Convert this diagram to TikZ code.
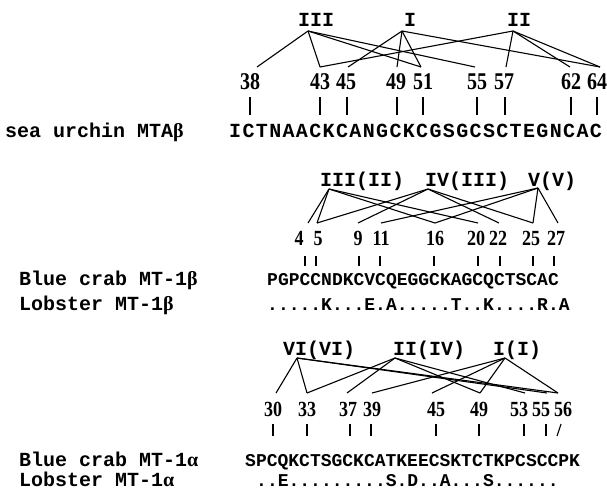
\documentclass[tikz,border=0pt]{standalone}
\usepackage{graphicx}
\usepackage{fontspec}
\setmainfont{Liberation Serif}
\setmonofont{Liberation Mono}
\usetikzlibrary{positioning}

\newcommand{\tallnum}[1]{\scalebox{1}[1.2]{#1}}

\tikzset{
  clus/.style={font=\ttfamily\bfseries\fontsize{20}{20}\selectfont, inner sep=0pt, anchor=base west},
  num/.style={font=\bfseries\fontsize{18}{18}\selectfont, inner sep=0pt, anchor=base},
  seqtext/.style={font=\ttfamily\bfseries\fontsize{18}{18}\selectfont, inner sep=0pt, anchor=base west},
  species/.style={font=\ttfamily\bfseries\fontsize{20}{20}\selectfont, inner sep=0pt, anchor=base west},
  bond/.style={line width=1.1pt},
  tick/.style={line width=1.1pt}
}

\begin{document}
\begin{tikzpicture}[x=1pt,y=-1pt]
\useasboundingbox (0,0) rectangle (607,490);

% sea urchin MTA beta
\node[clus] (tl3) at (298,26) {III};
\node[clus] (tl1) at (404,26) {I};
\node[clus] (tl2) at (507,26) {II};
\coordinate (ta3) at (308,31);
\coordinate (ta1) at (402,31);
\coordinate (ta2) at (513,31);
\foreach \n/\x/\e/\t in {38/250/257/250, 43/320/320/320, 45/346/348/347, 49/396/397/397,
    51/423/421/423, 55/477/475/477, 57/504/506/505, 62/571/570/571, 64/597/600/597} {
  \node[num, font=\bfseries\fontsize{20}{20}\selectfont] (tn\n) at (\x,89) {\tallnum{\n}};
  \coordinate (te\n) at (\e,67);
  \draw[tick] (\t,97) -- (\t,115);
}
\foreach \a/\c in {3/38, 3/43, 3/51, 3/55, 1/45, 1/49, 1/51, 1/64, 2/43, 2/57, 2/62, 2/64}
  \draw[bond] (ta\a) -- (te\c);
\node[species] (urchin) at (5,137) {sea urchin MTA{\rmfamily β}};
\node[seqtext, font=\ttfamily\bfseries\fontsize{20}{20}\selectfont\addfontfeature{LetterSpace=6.8}] (useq) at (229,137) {ICTNAACKCANGCKCGSGCSCTEGNCAC};

% crab beta domain
\node[clus] (ml3) at (320,186) {III(II)};
\node[clus] (ml4) at (425,186) {IV(III)};
\node[clus] (ml5) at (528,186) {V(V)};
\coordinate (ma3) at (329,189);
\coordinate (ma4) at (428,189);
\coordinate (ma5) at (538,188);
\foreach \n/\x/\e/\t in {4/299/308/305, 5/318/317/316, 9/358/358/359, 11/381/381/380, 16/435/435/434,
    20/476/478/478, 22/498/499/500, 25/531/533/533, 27/556/558/554} {
  \node[num] (mn\n) at (\x,245) {\tallnum{\n}};
  \coordinate (me\n) at (\e,223);
  \draw[tick] (\t,256) -- (\t,266);
}
\foreach \a/\c in {3/4, 3/5, 3/16, 3/20, 4/5, 4/9, 4/22, 4/25, 5/11, 5/16, 5/25, 5/27}
  \draw[bond] (ma\a) -- (me\c);
\node[species] (crabb) at (19,285) {Blue crab MT-1{\rmfamily β}};
\node[seqtext] (cbseq) at (267,285) {PGPCCNDKCVCQEGGCKAGCQCTSCAC};
\node[species] (lobb) at (19,310) {Lobster MT-1{\rmfamily β}};
\node[seqtext] (lbseq) at (267,310) {.....K...E.A.....T..K....R.A};

% crab alpha domain
\node[clus] (bl6) at (283,355) {VI(VI)};
\node[clus] (bl2) at (393,355) {II(IV)};
\node[clus] (bl1) at (493,355) {I(I)};
\coordinate (ba6) at (297,358);
\coordinate (ba2) at (395,358);
\coordinate (ba1) at (505,358);
\foreach \n/\x/\e/\t in {30/273/276/273, 33/307/307/307, 37/348/347/350, 39/372/372/371, 45/436/432/436,
    49/479/480/479, 53/519/525/524, 55/541/547/546} {
  \node[num] (bn\n) at (\x,416) {\tallnum{\n}};
  \coordinate (be\n) at (\e,393);
  \draw[tick] (\t,424) -- (\t,436);
}
\node[num] (bn56) at (563,416) {\tallnum{56}};
\coordinate (be56) at (558,393);
\draw[tick] (557,436) -- (561,424);
\foreach \a/\c in {6/30, 6/33, 6/55, 6/56, 2/33, 2/37, 2/49, 2/53, 1/39, 1/45, 1/49, 1/56}
  \draw[bond] (ba\a) -- (be\c);
\node[species] (craba) at (19,466) {Blue crab MT-1{\rmfamily α}};
\node[seqtext] (caseq) at (245,466) {SPCQKCTSGCKCATKEECSKTCTKPCSCCPK};
\node[species] (loba) at (19,486) {Lobster MT-1{\rmfamily α}};
\node[seqtext] (laseq) at (256,486) {..E.........S.D..A...S......};
\end{tikzpicture}
\end{document}
